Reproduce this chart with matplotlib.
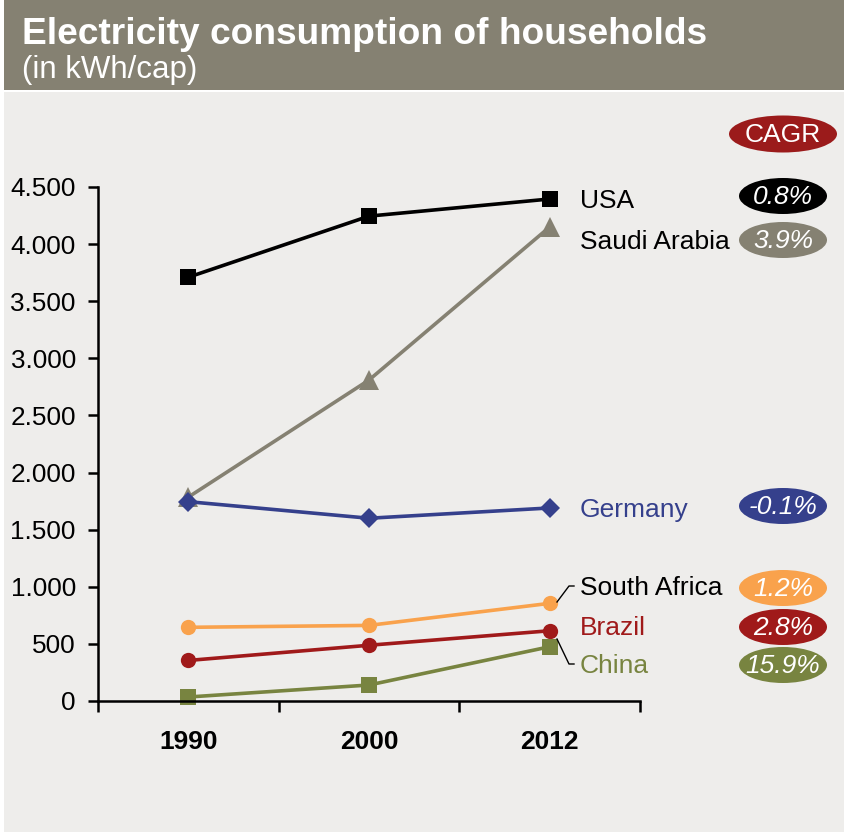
import matplotlib.pyplot as plt
from matplotlib.patches import Rectangle, Ellipse
from matplotlib.lines import Line2D

plt.rcParams['font.family'] = ['Liberation Sans', 'DejaVu Sans']

years = ['1990', '2000', '2012']
countries = ['USA', 'Saudi Arabia', 'Germany', 'South Africa', 'Brazil', 'China']
usa = [3710, 4245, 4395]
saudi = [1785, 2810, 4150]
germany = [1745, 1600, 1690]
south_africa = [645, 662, 855]
brazil = [355, 488, 615]
china = [35, 140, 475]
cagr = ['0.8%', '3.9%', '-0.1%', '1.2%', '2.8%', '15.9%']

bg = '#EEEDEB'
grey = '#858172'
colors = ['#000000', grey, '#35408C', '#F9A24C', '#A01A1A', '#788440']
markers = ['s', '^', 'D', 'o', 'o', 's']
msizes = [11.5, 14, 10.5, 11, 11, 11.5]
series = [usa, saudi, germany, south_africa, brazil, china]
label_colors = ['#000000', '#000000', '#35408C', '#000000', '#A01A1A', '#788440']

W, H = 8.44, 8.32
fig = plt.figure(figsize=(W, H), dpi=100, facecolor='white')

# header band and panel background, in inches
fig.patches.append(Rectangle((0.04, 0), W - 0.04, H - 0.92, transform=fig.dpi_scale_trans,
                             facecolor=bg, edgecolor='none', zorder=-2))
fig.patches.append(Rectangle((0.04, H - 0.90), W - 0.04, 0.90, transform=fig.dpi_scale_trans,
                             facecolor=grey, edgecolor='none', zorder=-2))
fig.text(0.22, H - 0.34, 'Electricity consumption of households', transform=fig.dpi_scale_trans,
         fontsize=26.7, fontweight='bold', color='white', va='center', ha='left')
fig.text(0.22, H - 0.70, '(in kWh/cap)', transform=fig.dpi_scale_trans,
         fontsize=22.5, color='white', va='center', ha='left')

ax = fig.add_axes([0.98 / W, 1.31 / H, 5.42 / W, 5.14 / H])
ax.set_facecolor('none')
x = range(len(years))
for vals, c, m, ms in zip(series, colors, markers, msizes):
    ax.plot(x, vals, color=c, lw=2.6, marker=m, markersize=ms, markeredgewidth=0, clip_on=False)

ax.set_xlim(-0.5, 2.5)
ax.set_ylim(0, 4500)
ax.set_yticks(range(0, 4501, 500))
ax.set_yticklabels([f'{v:,}'.replace(',', '.') for v in range(0, 4501, 500)], fontsize=18.8)
ax.set_xticks(list(x))
ax.set_xticklabels(years, fontsize=19, fontweight='bold')
ax.set_xticks([-0.5, 0.5, 1.5, 2.5], minor=True)
ax.tick_params(axis='x', which='major', length=0, pad=21)
ax.tick_params(axis='x', which='minor', length=8, width=1.8, direction='out')
ax.tick_params(axis='y', length=7, width=1.8, direction='out', pad=9)
for s in ['top', 'right']:
    ax.spines[s].set_visible(False)
for s in ['left', 'bottom']:
    ax.spines[s].set_linewidth(1.8)

# series names and CAGR badges on the right
label_y = [2.01, 2.42, 5.10, 5.88, 6.28, 6.66]
badge_y = [1.96, 2.40, 5.06, 5.88, 6.27, 6.65]
for name, lc, ly, rate, c, by in zip(countries, label_colors, label_y, cagr, colors, badge_y):
    fig.text(5.80, H - ly, name, transform=fig.dpi_scale_trans, fontsize=19,
             color=lc, va='center', ha='left')
    fig.patches.append(Ellipse((7.83, H - by), 0.88, 0.36, transform=fig.dpi_scale_trans,
                               facecolor=c, edgecolor='none'))
    fig.text(7.83, H - by - 0.01, rate, transform=fig.dpi_scale_trans, fontsize=19,
             color='white', style='italic', va='center', ha='center')

fig.patches.append(Ellipse((7.83, H - 1.34), 1.08, 0.37, transform=fig.dpi_scale_trans,
                           facecolor='#9B1B1B', edgecolor='none'))
fig.text(7.83, H - 1.35, 'CAGR', transform=fig.dpi_scale_trans, fontsize=19,
         color='white', va='center', ha='center')

# leader lines for the crowded labels
for xs, ys in [([5.57, 5.69, 5.74], [6.02, 5.86, 5.86]), ([5.57, 5.69, 5.74], [6.39, 6.64, 6.64])]:
    fig.lines.append(Line2D(xs, [H - v for v in ys], transform=fig.dpi_scale_trans,
                            color='black', lw=1.0))

fig.savefig('out.png', dpi=100, facecolor='white')
